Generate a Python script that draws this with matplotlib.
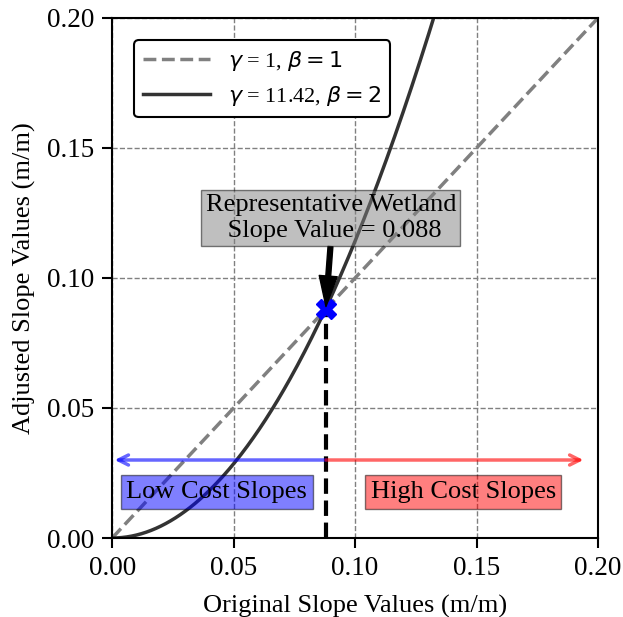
import numpy as np
import matplotlib.pyplot as plt

plt.rcParams['font.family'] = ['Liberation Serif', 'DejaVu Serif']
plt.rcParams['mathtext.fontset'] = 'dejavusans'

# curve parameters (y = gamma * x ** beta)
gamma_lin, beta_lin = 1, 1
gamma_adj, beta_adj = 11.42, 2
wetland_slope = 0.088
arrow_y = 0.03
x_max = 0.2

x = np.linspace(0, x_max, 400)

fig, ax = plt.subplots(figsize=(6.23, 6.17), dpi=100)

ax.plot(x, gamma_lin * x ** beta_lin, '--', color='gray', lw=2.5,
        label=r'$\gamma$ = 1, $\beta = 1$')
ax.plot(x, gamma_adj * x ** beta_adj, '-', color='#333333', lw=2.5,
        label=r'$\gamma$ = 11.42, $\beta = 2$')

# low / high cost arrows
ax.annotate('', xy=(0.001, arrow_y), xytext=(wetland_slope, arrow_y),
            arrowprops=dict(arrowstyle='->', color='blue', lw=2.5, alpha=0.6,
                            shrinkA=0, shrinkB=0, mutation_scale=18))
ax.annotate('', xy=(0.194, arrow_y), xytext=(wetland_slope, arrow_y),
            arrowprops=dict(arrowstyle='->', color='red', lw=2.5, alpha=0.6,
                            shrinkA=0, shrinkB=0, mutation_scale=18))

ax.plot([wetland_slope, wetland_slope], [0, wetland_slope], '--', color='black', lw=3)
ax.plot(wetland_slope, wetland_slope, 'X', color='blue', ms=14)

ax.text(0.043, 0.0177, 'Low Cost Slopes', fontsize=19, ha='center', va='center',
        bbox=dict(facecolor='blue', alpha=0.5, edgecolor='black', pad=4))
ax.text(0.1445, 0.0177, 'High Cost Slopes', fontsize=19, ha='center', va='center',
        bbox=dict(facecolor='red', alpha=0.5, edgecolor='black', pad=4))

ax.annotate('Representative Wetland\n Slope Value = ' + str(wetland_slope),
            xy=(wetland_slope, wetland_slope + 0.001), xytext=(0.09, 0.123),
            fontsize=19, ha='center', va='center',
            bbox=dict(facecolor='gray', alpha=0.5, edgecolor='black', pad=3),
            arrowprops=dict(facecolor='black', edgecolor='black', width=3.5,
                            headwidth=13, headlength=22, shrink=0.0))

ax.set_xlim(0, x_max)
ax.set_ylim(0, x_max)
ax.set_xticks([0, 0.05, 0.1, 0.15, 0.2])
ax.set_yticks([0, 0.05, 0.1, 0.15, 0.2])
ax.tick_params(labelsize=19.5, width=1.5, length=7, pad=6)
for s in ax.spines.values():
    s.set_linewidth(1.5)
ax.grid(True, linestyle='--', color='gray', lw=1)
ax.set_xlabel('Original Slope Values (m/m)', fontsize=19, labelpad=10)
ax.set_ylabel('Adjusted Slope Values (m/m)', fontsize=19, labelpad=8)
leg = ax.legend(loc='upper left', fontsize=16, framealpha=1, edgecolor='black',
                borderaxespad=1.0, handlelength=3)
leg.get_frame().set_linewidth(1.5)

fig.subplots_adjust(left=0.18, right=0.96, bottom=0.128, top=0.971)
fig.savefig('out.png', dpi=100)
